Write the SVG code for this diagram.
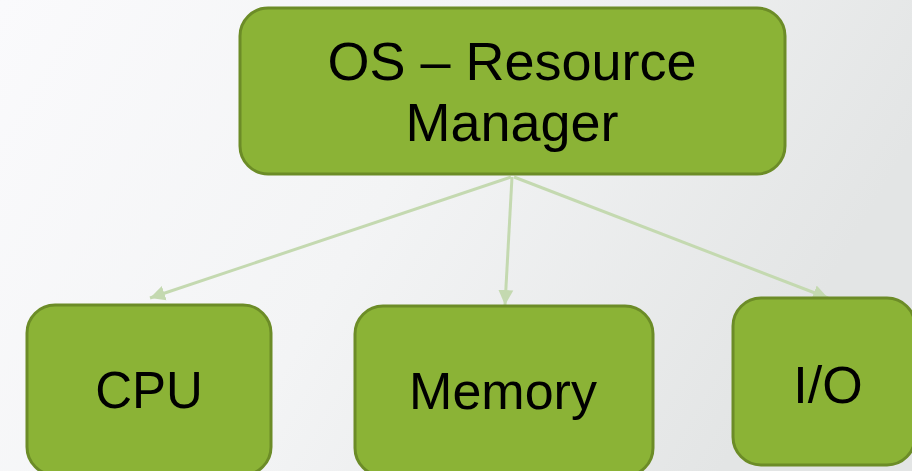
<svg xmlns="http://www.w3.org/2000/svg" width="912" height="471" viewBox="0 0 912 471">
<defs>
<linearGradient id="bg" x1="0" y1="0" x2="1" y2="0.3">
<stop offset="0" stop-color="#fafafc"/>
<stop offset="0.5" stop-color="#f3f4f5"/>
<stop offset="1" stop-color="#e3e5e5"/>
</linearGradient>
<marker id="arr" viewBox="0 0 10 10" refX="10" refY="5" markerWidth="5" markerHeight="5.5" markerUnits="strokeWidth" orient="auto">
<path d="M0,0 L10,5 L0,10 z" fill="#c4d9b0"/>
</marker>
<style>
.box{fill:#8bb336;stroke:#6c8c27;stroke-width:3}
.lbl{font-family:"Liberation Sans",Arial,sans-serif;font-size:52px;fill:#000;text-anchor:middle}
.con{stroke:#c4d9b0;stroke-width:3;fill:none;marker-end:url(#arr)}
</style>
</defs>
<rect width="912" height="471" fill="url(#bg)"/>
<g id="connectors">
<line class="con" x1="511" y1="177" x2="150" y2="298"/>
<line class="con" x1="512" y1="177" x2="505" y2="305"/>
<line class="con" x1="514" y1="177" x2="828" y2="298"/>
</g>
<g id="node-os">
<rect class="box" x="240" y="8" width="545" height="166" rx="28"/>
<text class="lbl" x="512" y="80" style="font-size:54px">OS – Resource</text>
<text class="lbl" x="512" y="141" style="font-size:54px">Manager</text>
</g>
<g id="node-cpu">
<rect class="box" x="27" y="305" width="244" height="170" rx="28"/>
<text class="lbl" x="149" y="408" style="font-size:51px">CPU</text>
</g>
<g id="node-memory">
<rect class="box" x="355" y="306" width="298" height="170" rx="28"/>
<text class="lbl" x="503" y="409">Memory</text>
</g>
<g id="node-io">
<rect class="box" x="733" y="298" width="182" height="167" rx="28"/>
<text class="lbl" x="828" y="403">I/O</text>
</g>
</svg>
